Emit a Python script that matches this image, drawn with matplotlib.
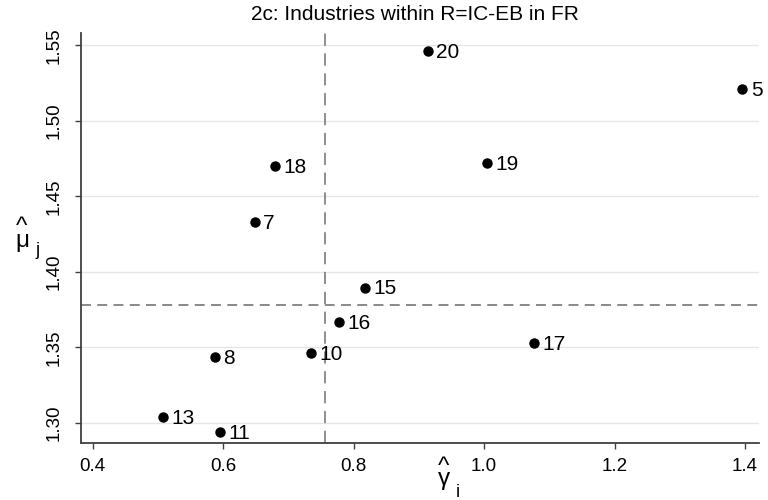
import matplotlib
matplotlib.use("Agg")
import matplotlib.pyplot as plt

# ---------------------------------------------------------------------------
# Data
# ---------------------------------------------------------------------------

industries = ["20", "5", "19", "18", "7", "15", "16", "17", "10", "8", "13", "11"]
gamma_hat  = [0.914, 1.396, 1.004, 0.680, 0.648, 0.817, 0.778, 1.077, 0.735, 0.587, 0.508, 0.595]
mu_hat     = [1.5463, 1.5208, 1.4723, 1.4699, 1.4328, 1.3896, 1.3665, 1.3529, 1.3464, 1.3434, 1.3035, 1.2938]

# mean reference lines
gamma_mean = 0.756
mu_mean    = 1.378

x_ticks = [0.4, 0.6, 0.8, 1.0, 1.2, 1.4]
y_ticks = [1.30, 1.35, 1.40, 1.45, 1.50, 1.55]

title = "2c: Industries within R=IC-EB in FR"

# ---------------------------------------------------------------------------
# Plot
# ---------------------------------------------------------------------------

plt.rcParams['font.family'] = ['Liberation Sans', 'DejaVu Sans']

W, H = 768, 500
fig = plt.figure(figsize=(W / 100, H / 100), dpi=100)
ax = fig.add_axes([0.1055, 0.1134, 0.8824, 0.82])

axis_col = "#404040"

for yt in y_ticks:
    ax.axhline(yt, color="#e6e6e6", lw=1.0, zorder=0)

ax.axvline(gamma_mean, color="#707070", lw=1.1, dashes=(8, 5), zorder=1)
ax.axhline(mu_mean, color="#808080", lw=1.3, dashes=(5.5, 3.5), zorder=1)

ax.plot(gamma_hat, mu_hat, "o", color="black", ms=6.5, zorder=3)
for name, gx, my in zip(industries, gamma_hat, mu_hat):
    ax.annotate(name, (gx, my), xytext=(6, -1), textcoords="offset points",
                va="center", ha="left", fontsize=15, color="black")

ax.set_xlim(0.382, 1.421)
ax.set_ylim(1.2864, 1.558)
ax.set_xticks(x_ticks)
ax.set_xticklabels(["%.1f" % v for v in x_ticks])
ax.set_yticks(y_ticks)
ax.set_yticklabels(["%.2f" % v for v in y_ticks], rotation=90, va="center")

ax.tick_params(axis="both", direction="out", length=4.5, width=1.0,
               color=axis_col, labelsize=13.5, labelcolor="black")
ax.tick_params(axis="x", pad=6)
ax.tick_params(axis="y", pad=9)

for side in ["top", "right"]:
    ax.spines[side].set_visible(False)
for side in ["left", "bottom"]:
    ax.spines[side].set_color(axis_col)
    ax.spines[side].set_linewidth(1.3)


# axis titles: caret stacked over the greek letter, subscript beside it
def px_text(x, y, s, size, **kw):
    fig.text(x / W, 1 - y / H, s, ha="center", va="baseline", fontsize=size, **kw)


px_text(444, 485, "^\n\u03b3", 17.5, linespacing=0.40, multialignment="center")
px_text(458, 497, "i", 13)

px_text(22, 247, "^\n\u03bc", 17.5, linespacing=0.52, multialignment="center")
px_text(37, 255, "j", 13)

fig.text(415 / W, 1 - 15 / H, title, ha="center", va="center", fontsize=15)

fig.savefig("out.png", dpi=100)
